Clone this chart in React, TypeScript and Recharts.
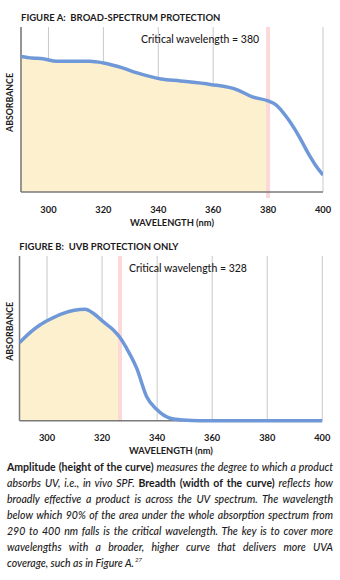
import React from 'react';
import { ComposedChart, Area, Line, XAxis, YAxis, CartesianGrid, ReferenceLine } from 'recharts';

// ---------- data ----------
const xTicks = [300, 320, 340, 360, 380, 400];

const wavelengthA = [290, 294, 298, 303, 315, 320, 327, 332, 341, 348, 359, 369, 374, 380, 383, 387, 391, 395, 398, 400];
const absorbanceA = [0.822, 0.812, 0.808, 0.792, 0.792, 0.782, 0.752, 0.723, 0.685, 0.673, 0.652, 0.618, 0.578, 0.552, 0.527, 0.448, 0.345, 0.224, 0.145, 0.103];
const criticalA = 380;

const wavelengthB = [290, 295, 297.4, 301.1, 305.9, 313.8, 316.8, 320.4, 324.1, 326.5, 328.9, 332.6, 336.2, 339.8, 344.7, 349.5, 355.6, 370, 400];
const absorbanceB = [0.474, 0.551, 0.581, 0.616, 0.652, 0.676, 0.652, 0.601, 0.551, 0.505, 0.44, 0.318, 0.146, 0.069, 0.015, 0.004, 0.0, 0.0, 0.0];
const criticalB = 326.5;

const titleA = 'FIGURE A:  BROAD-SPECTRUM PROTECTION';
const titleB = 'FIGURE B:  UVB PROTECTION ONLY';
const critTextA = 'Critical wavelength = 380';
const critTextB = 'Critical wavelength = 328';
const xTitle = 'WAVELENGTH (nm)';
const yTitle = 'ABSORBANCE';

const buildData = (nms: number[], vals: number[], crit: number) =>
  nms.map((nm, i) => ({ nm, abs: vals[i], under: nm <= crit ? vals[i] : null }));

const dataA = buildData(wavelengthA, absorbanceA, criticalA);
const dataB = buildData(wavelengthB, absorbanceB, criticalB);

// ---------- styles ----------
const INK = '#1c1a1b';
const LINE = '#6f98d8';
const FILL = '#fdf0cf';
const PINK = '#fbd9d9';
const GRID = '#c5c9cd';
const AXIS = '#7a7a7a';
const FONT = 'Lato, sans-serif';

const XTitle = (props: any) => {
  const vb = props.viewBox || {};
  return (
    <text x={vb.x + vb.width / 2} y={vb.y + 33.5} textAnchor="middle"
      style={{ fontFamily: FONT, fontSize: 9.3, fontWeight: 700, fill: INK }}>
      {props.value}
    </text>
  );
};

const YTitle = (props: any) => {
  const vb = props.viewBox || {};
  const x = 12.5;
  const y = vb.y + vb.height / 2 - 7;
  return (
    <text x={x} y={y} textAnchor="middle" transform={`rotate(-90, ${x}, ${y})`}
      style={{ fontFamily: FONT, fontSize: 8.8, fontWeight: 700, fill: INK }}>
      {props.value}
    </text>
  );
};

const makeCritLabel = (side: 'left' | 'right') => (props: any) => {
  const vb = props.viewBox || {};
  const x = side === 'left' ? vb.x - 9 : vb.x + 9;
  return (
    <text x={x} y={43.3} textAnchor={side === 'left' ? 'end' : 'start'}
      style={{ fontFamily: FONT, fontSize: 10.5, fontWeight: 500, fill: INK }}>
      {props.value}
    </text>
  );
};

type SpecProps = {
  data: any[];
  critical: number;
  critText: string;
  side: 'left' | 'right';
  top: number;
  yw: number;
  right: number;
  plotH: number;
  below: number;
};

function Spectrum({ data, critical, critText, side, top, yw, right, plotH, below }: SpecProps) {
  const h = 27 + plotH + 38;
  return (
    <div style={{ position: 'absolute', left: 0, top }}>
      <ComposedChart width={340} height={h} data={data}
        margin={{ top: 27, right, left: 0, bottom: 0 }}>
        <CartesianGrid horizontal={false} stroke={GRID} strokeWidth={1} />
        <XAxis dataKey="nm" type="number" domain={[290, 400]} ticks={xTicks}
          allowDataOverflow height={38} tickLine={false} tickSize={0} tickMargin={14}
          axisLine={{ stroke: AXIS, strokeWidth: 1.5 }}
          tick={{ fontFamily: FONT, fontSize: 9.3, fontWeight: 700, fill: INK }}
          label={{ value: xTitle, content: XTitle }} />
        <YAxis type="number" domain={[0, 1]} width={yw} tick={false} tickLine={false}
          axisLine={{ stroke: AXIS, strokeWidth: 1.5 }}
          label={{ value: yTitle, content: YTitle }} />
        <Area dataKey="under" type="monotone" fill={FILL} fillOpacity={1} stroke="none"
          isAnimationActive={false} connectNulls={false} />
        <ReferenceLine segment={[{ x: critical, y: -below }, { x: critical, y: 1 }]}
          ifOverflow="visible" stroke={PINK} strokeWidth={4}
          label={{ value: critText, content: makeCritLabel(side) }} />
        <Line dataKey="abs" type="monotone" stroke={LINE} strokeWidth={3.5} dot={false}
          activeDot={false} isAnimationActive={false} strokeLinejoin="round" zIndex={700} />
      </ComposedChart>
    </div>
  );
}

type Run = { t: string; b?: boolean };
const paragraph: Run[][] = [
  [{ t: 'Amplitude (height of the curve)', b: true }, { t: ' measures the degree to which a product' }],
  [{ t: 'absorbs UV, i.e., in vivo SPF. ' }, { t: 'Breadth (width of the curve)', b: true }, { t: ' reflects how' }],
  [{ t: 'broadly effective a product is across the UV spectrum. The wavelength' }],
  [{ t: 'below which 90% of the area under the whole absorption spectrum from' }],
  [{ t: '290 to 400 nm falls is the critical wavelength. The key is to cover more' }],
  [{ t: 'wavelengths with a broader, higher curve that delivers more UVA' }],
  [{ t: 'coverage, such as in Figure A.' }],
];

export default function App() {
  return (
    <div style={{ position: 'absolute', left: 0, top: 0, width: 340, height: 580, background: '#fff', color: INK, fontFamily: FONT }}>
      <Spectrum data={dataA} critical={criticalA} critText={critTextA} side="left"
        top={0} yw={21} right={17} plotH={165} below={0.036} />
      <Spectrum data={dataB} critical={criticalB} critText={critTextB} side="right"
        top={229} yw={19.5} right={17.7} plotH={164.7} below={0.006} />
      <svg width={340} height={580} style={{ position: 'absolute', left: 0, top: 0, pointerEvents: 'none' }}>
        <text x={21} y={20.7} xmlSpace="preserve" style={{ fontFamily: FONT, fontSize: 9.5, fontWeight: 700, fill: INK, whiteSpace: 'pre' }}>{titleA}</text>
        <text x={19.3} y={250} xmlSpace="preserve" style={{ fontFamily: FONT, fontSize: 9.5, fontWeight: 700, fill: INK, whiteSpace: 'pre' }}>{titleB}</text>
      </svg>
      <div style={{ position: 'absolute', left: 7, top: 459, width: 326, fontSize: 10.5, lineHeight: '16px' }}>
        {paragraph.map((line, i) => (
          <div key={i} style={{ textAlign: 'justify', textAlignLast: i === paragraph.length - 1 ? 'left' : 'justify' }}>
            {line.map((r, j) => (
              <span key={j} style={{ fontWeight: r.b ? 700 : 500, fontStyle: r.b ? 'normal' : 'italic' }}>{r.t}</span>
            ))}
            {i === paragraph.length - 1 ? (
              <sup style={{ fontSize: 6, fontStyle: 'italic', verticalAlign: 'top', position: 'relative', top: -3, marginLeft: 1 }}>27</sup>
            ) : null}
          </div>
        ))}
      </div>
    </div>
  );
}
